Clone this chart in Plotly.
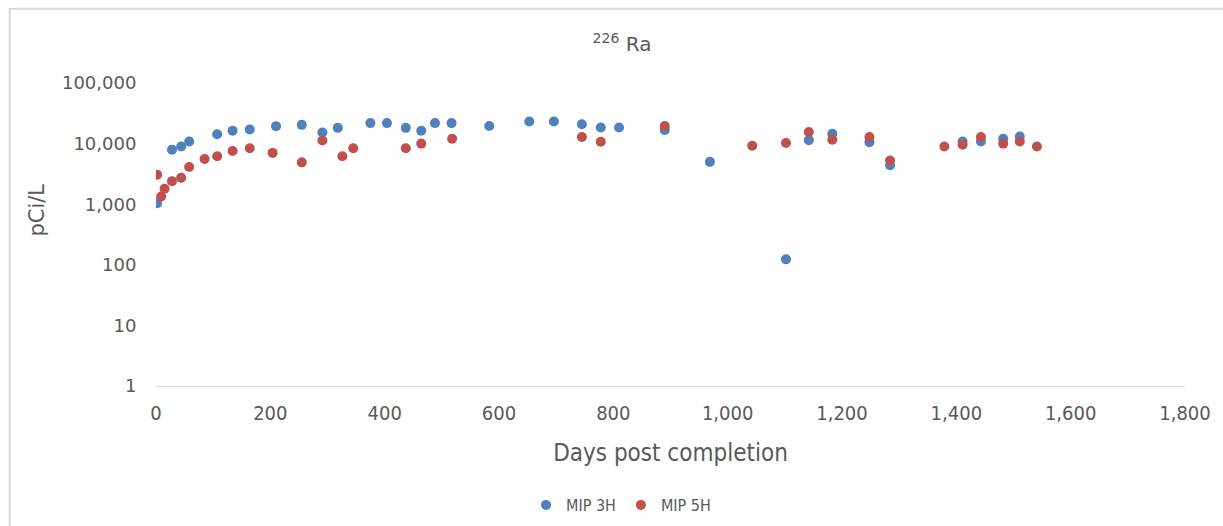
import plotly.graph_objects as go

# Radium-226 activity in flowback water, two wells
days_3h = [2, 28, 44, 58, 107, 134, 164, 210, 255, 291, 318, 375, 404, 437, 464,
           488, 517, 583, 653, 696, 745, 778, 810, 890, 969, 1102, 1142, 1183,
           1248, 1284, 1411, 1443, 1482, 1511]
ra_3h = [1040, 7950, 8950, 10800, 14300, 16300, 17100, 19400, 20400, 15200, 18200,
         21800, 21800, 18200, 16300, 21800, 21800, 19500, 23100, 23100, 20800,
         18400, 18400, 16800, 5000, 123, 11400, 14500, 10500, 4380, 10800, 10800,
         12000, 13100]

days_5h = [2, 9, 15, 28, 44, 58, 85, 107, 134, 164, 204, 255, 291, 326, 345, 437,
           464, 518, 745, 778, 890, 1043, 1102, 1142, 1183, 1248, 1284, 1379, 1411,
           1443, 1482, 1511, 1541]
ra_5h = [3060, 1340, 1800, 2400, 2730, 4100, 5580, 6190, 7570, 8390, 7020, 4900,
         11250, 6190, 8390, 8390, 10000, 12000, 12850, 10700, 19500, 9190, 10200,
         15500, 11550, 12850, 5250, 8950, 9550, 12800, 10000, 10800, 8950]

y_tickvals = [1, 10, 100, 1000, 10000, 100000]
y_ticktext = ["1", "10", "100", "1,000", "10,000", "100,000"]

GREY = "#595959"
BLUE = "#4F81BD"
RED = "#C0504D"

fig = go.Figure()
fig.add_trace(go.Scatter(x=days_3h, y=ra_3h, mode="markers", name="MIP 3H",
                         marker=dict(color=BLUE, size=10)))
fig.add_trace(go.Scatter(x=days_5h, y=ra_5h, mode="markers", name="MIP 5H",
                         marker=dict(color=RED, size=10)))

fig.update_layout(
    width=1223, height=526,
    margin=dict(l=156, r=33, t=83, b=140),
    paper_bgcolor="white", plot_bgcolor="white",
    font=dict(family="DejaVu Sans", color=GREY),
    title=dict(text="<sup>226</sup> Ra", x=0.5086, xref="container", xanchor="center",
               y=1 - 44 / 526, yref="container", yanchor="middle",
               font=dict(size=20, color=GREY, family="DejaVu Sans")),
    showlegend=True,
    legend=dict(orientation="h", xref="container", yref="container",
                x=0.5078, xanchor="center", y=1 - 505 / 526, yanchor="middle",
                font=dict(size=16, color=GREY, family="DejaVu Sans Condensed"),
                itemwidth=30, tracegroupgap=0),
    shapes=[dict(type="rect", xref="paper", yref="paper",
                 x0=-0.1422, x1=1.2, y0=-0.6, y1=1.2451,
                 line=dict(color="#d9d9d9", width=2), layer="below")],
    annotations=[dict(text="pCi/L", textangle=-90, showarrow=False,
                      xref="paper", yref="paper", x=-0.116, y=0.581,
                      xanchor="center", yanchor="middle",
                      font=dict(size=21, color=GREY, family="DejaVu Sans"))],
)

fig.update_xaxes(
    range=[0, 1800], dtick=200, tickformat=",",
    showgrid=False, zeroline=False,
    showline=True, linecolor="#d9d9d9", linewidth=1,
    ticks="outside", ticklen=9, tickcolor="rgba(0,0,0,0)",
    tickfont=dict(size=20, color=GREY, family="DejaVu Sans Condensed"),
    title=dict(text="Days post completion", standoff=20,
               font=dict(size=24, color=GREY, family="DejaVu Sans Condensed")),
)
fig.update_yaxes(
    type="log", range=[0, 5], tickvals=y_tickvals, ticktext=y_ticktext,
    showgrid=False, zeroline=False, showline=False,
    ticks="outside", ticklen=15, tickcolor="rgba(0,0,0,0)",
    tickfont=dict(size=18, color=GREY, family="DejaVu Sans"),
)

fig.write_html("out.html")
